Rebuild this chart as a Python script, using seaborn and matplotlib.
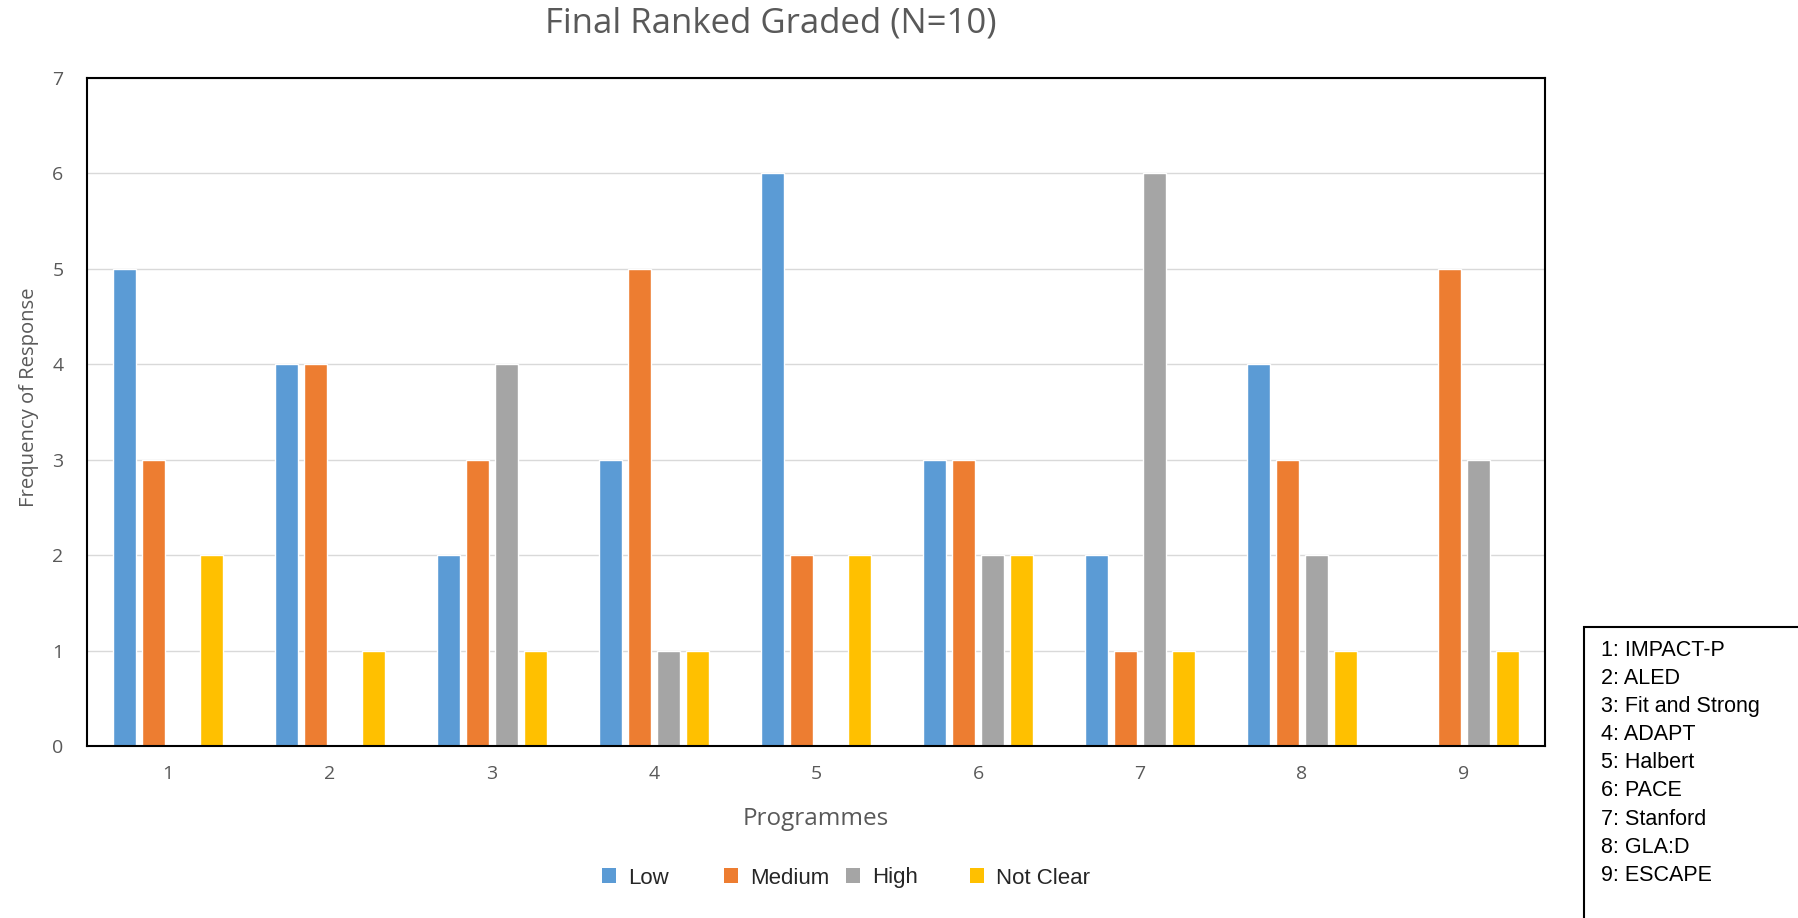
import matplotlib
matplotlib.use("Agg")
import matplotlib.pyplot as plt
import seaborn as sns
import pandas as pd
from matplotlib.patches import Rectangle, Patch

programmes = ["1", "2", "3", "4", "5", "6", "7", "8", "9"]
ratings = ["Low", "Medium", "High", "Not Clear"]
low = [5, 4, 2, 3, 6, 3, 2, 4, 0]
medium = [3, 4, 3, 5, 2, 3, 1, 3, 5]
high = [0, 0, 4, 1, 0, 2, 6, 2, 3]
not_clear = [2, 1, 1, 1, 2, 2, 1, 1, 1]
names = ["1: IMPACT-P", "2: ALED", "3: Fit and Strong", "4: ADAPT", "5: Halbert",
         "6: PACE", "7: Stanford", "8: GLA:D", "9: ESCAPE"]
colors = ["#5B9BD5", "#ED7D31", "#A5A5A5", "#FFC000"]

rows = []
for r, vals in zip(ratings, [low, medium, high, not_clear]):
    for p, v in zip(programmes, vals):
        rows.append({"Programme": p, "Rating": r, "Frequency": v})
df = pd.DataFrame(rows)

sns.set_theme(style="white")
plt.rcParams["font.family"] = ["Open Sans", "DejaVu Sans"]

W, H = 1798, 918
fig = plt.figure(figsize=(W / 100, H / 100), dpi=100)
ax = fig.add_axes([87 / W, 1 - 746 / H, (1545 - 87) / W, (746 - 78) / H])

sns.barplot(data=df, x="Programme", y="Frequency", hue="Rating", order=programmes,
            hue_order=ratings, palette=colors, width=0.716, gap=0.2,
            errorbar=None, ax=ax, legend=False, saturation=1)

ax.set_ylim(0, 7)
ax.set_yticks(range(0, 8))
ax.yaxis.grid(True, color="#D9D9D9", linewidth=1)
ax.set_axisbelow(True)
for s in ax.spines.values():
    s.set_color("black")
    s.set_linewidth(1.5)
ax.tick_params(axis="both", length=0, labelsize=14, colors="#595959")
ax.tick_params(axis="x", pad=14)
ax.tick_params(axis="y", pad=17)
ax.set_xlabel("Programmes", fontsize=17.5, color="#595959")
ax.set_ylabel("Frequency of Response", fontsize=14.6, color="#595959")
ax.xaxis.set_label_coords(0.5, (746 - 819) / (746 - 78))
ax.xaxis.label.set_va("center")
ax.yaxis.set_label_coords((29 - 87) / (1545 - 87), (746 - 397.5) / (746 - 78))
ax.yaxis.label.set_va("center")

fig.text(771 / W, 1 - 24 / H, "Final Ranked Graded (N=10)", ha="center", va="center",
         fontsize=25, color="#595959")

fs = 16
px_per_em = fs * 100 / 72
for c, lab, xpos in zip(colors, ratings, [602, 724, 846, 970]):
    fig.legend([Patch(facecolor=c, edgecolor="none")], [lab], loc="center left",
               bbox_to_anchor=(xpos / W, 1 - 878 / H), frameon=False,
               borderpad=0, borderaxespad=0,
               handlelength=14 / px_per_em, handleheight=14 / px_per_em,
               handletextpad=12 / px_per_em,
               prop={"family": "Liberation Sans", "size": fs})

fig.patches.append(Rectangle((1584 / W, -0.01), 0.2, (918 - 627) / H + 0.01,
                             transform=fig.transFigure, facecolor="white",
                             edgecolor="black", linewidth=1.5))
for i, n in enumerate(names):
    fig.text(1601 / W, 1 - (650 + i * 28.2) / H, n, ha="left", va="center",
             fontsize=15.5, family="Liberation Sans", color="black")

fig.savefig("out.png", dpi=100)
